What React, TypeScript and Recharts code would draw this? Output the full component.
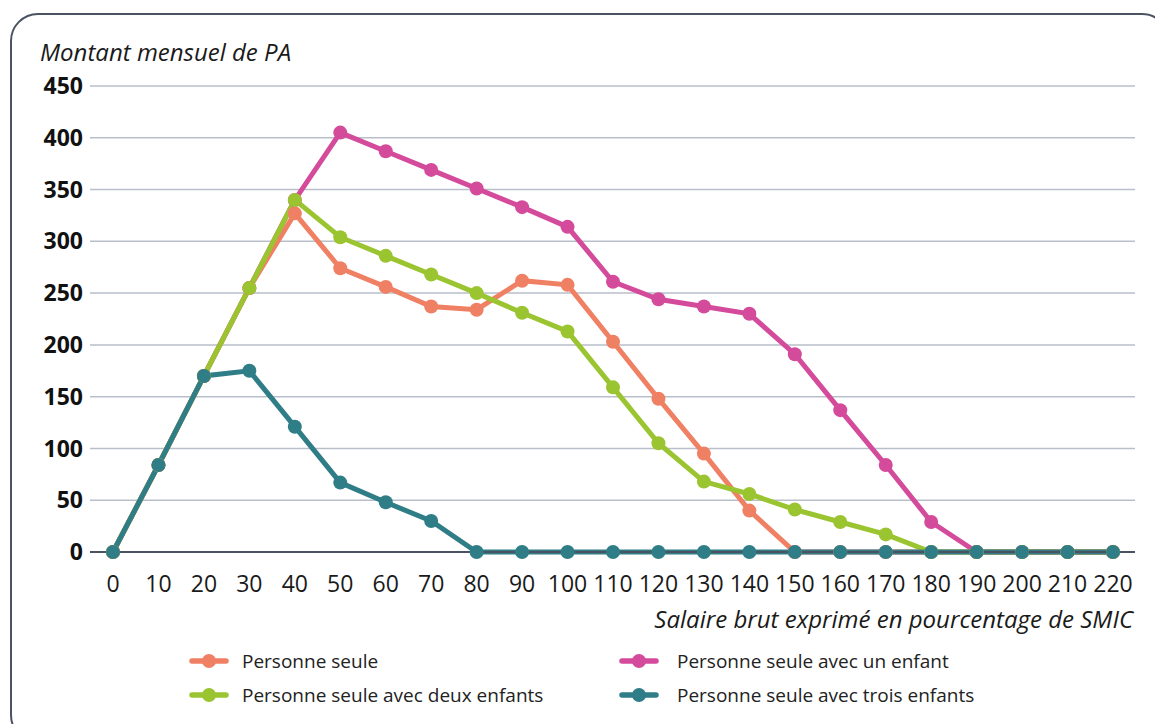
import { LineChart, Line, XAxis, YAxis, CartesianGrid } from 'recharts';

const salaires = [0, 10, 20, 30, 40, 50, 60, 70, 80, 90, 100, 110, 120, 130, 140, 150, 160, 170, 180, 190, 200, 210, 220];

const seule = [0, 84, 170, 255, 327, 274, 256, 237, 234, 262, 258, 203, 148, 95, 40, 0, 0, 0, 0, 0, 0, 0, 0];
const unEnfant = [0, 84, 170, 255, 340, 405, 387, 369, 351, 333, 314, 261, 244, 237, 230, 191, 137, 84, 29, 0, 0, 0, 0];
const deuxEnfants = [0, 84, 170, 255, 340, 304, 286, 268, 250, 231, 213, 159, 105, 68, 56, 41, 29, 17, 0, 0, 0, 0, 0];
const troisEnfants = [0, 84, 170, 175, 121, 67, 48, 30, 0, 0, 0, 0, 0, 0, 0, 0, 0, 0, 0, 0, 0, 0, 0];

const yTicks = [0, 50, 100, 150, 200, 250, 300, 350, 400, 450];

const series = [
    { key: 'seule', name: 'Personne seule', color: '#f08064' },
    { key: 'unEnfant', name: 'Personne seule avec un enfant', color: '#d34b9a' },
    { key: 'deuxEnfants', name: 'Personne seule avec deux enfants', color: '#9bc431' },
    { key: 'troisEnfants', name: 'Personne seule avec trois enfants', color: '#2f7d86' },
];

const data = salaires.map((s, i) => ({
    salaire: s,
    seule: seule[i],
    unEnfant: unEnfant[i],
    deuxEnfants: deuxEnfants[i],
    troisEnfants: troisEnfants[i],
}));

// draw order: pink, orange, green, teal (teal on top)
const drawOrder = ['unEnfant', 'seule', 'deuxEnfants', 'troisEnfants'];

const FONT = '"Open Sans", "Noto Sans", sans-serif';

// legend slots: icon left, text left, row center
const legendPos = [
    { icon: 189, text: 242, y: 661 },
    { icon: 619, text: 677, y: 661 },
    { icon: 189, text: 242, y: 695 },
    { icon: 619, text: 677, y: 695 },
];

function LegendBox() {
    return (
        <>
            {series.map((s, i) => {
                const p = legendPos[i];
                return (
                    <div key={s.key}>
                        <svg width={40} height={16} style={{ position: 'absolute', left: p.icon, top: p.y - 8 }}>
                            <line x1={3} y1={8} x2={37} y2={8} stroke={s.color} strokeWidth={5.5} strokeLinecap="round" />
                            <circle cx={20} cy={8} r={7} fill={s.color} />
                        </svg>
                        <div style={{ position: 'absolute', left: p.text, top: p.y - 14, height: 28, lineHeight: '28px', fontSize: 19, color: '#222', whiteSpace: 'nowrap' }}>
                            {s.name}
                        </div>
                    </div>
                );
            })}
        </>
    );
}

export default function App() {
    return (
        <div style={{ position: 'absolute', left: 0, top: 0, width: 1155, height: 724, overflow: 'hidden', background: '#fff', fontFamily: FONT }}>
            <div style={{ position: 'absolute', left: 10, top: 13, width: 1160, height: 730, border: '2.5px solid #4b5363', borderRadius: 28, boxSizing: 'border-box' }} />
            <div style={{ position: 'absolute', left: 40, top: 52 - 17, height: 34, lineHeight: '34px', fontSize: 24, fontStyle: 'italic', color: '#1a1a1a', whiteSpace: 'nowrap' }}>Montant mensuel de PA</div>
            <div style={{ position: 'absolute', right: 22, top: 619 - 17, height: 34, lineHeight: '34px', fontSize: 24, fontStyle: 'italic', color: '#1a1a1a', whiteSpace: 'nowrap' }}>Salaire brut exprimé en pourcentage de SMIC</div>
            <div style={{ position: 'absolute', left: 0, top: 0 }}>
                <LineChart width={1155} height={724} data={data} margin={{ top: 86, right: 20, bottom: 132, left: 0 }}>
                    <CartesianGrid vertical={false} stroke="#b9bfca" strokeWidth={1.5} />
                    <XAxis
                        dataKey="salaire"
                        type="number"
                        domain={[0, 220]}
                        ticks={salaires}
                        interval={0}
                        padding={{ left: 23, right: 22 }}
                        tickLine={false}
                        axisLine={{ stroke: '#4b5363', strokeWidth: 2 }}
                        tickSize={0}
                        tickMargin={24}
                        tick={{ fill: '#1a1a1a', fontSize: 23, fontFamily: FONT }}
                        height={40}
                    />
                    <YAxis
                        domain={[0, 450]}
                        ticks={yTicks}
                        interval={0}
                        tickLine={false}
                        axisLine={false}
                        tickSize={0}
                        tickMargin={7}
                        width={90}
                        tick={{ fill: '#111', fontSize: 23, fontWeight: 700, fontFamily: FONT }}
                    />
                    {drawOrder.map((k) => {
                        const s = series.find((x) => x.key === k)!;
                        return (
                            <Line
                                key={k}
                                dataKey={k}
                                name={s.name}
                                stroke={s.color}
                                strokeWidth={5}
                                type="linear"
                                dot={{ r: 7, fill: s.color, stroke: s.color, strokeWidth: 0 }}
                                activeDot={false}
                                isAnimationActive={false}
                            />
                        );
                    })}
                </LineChart>
            </div>
            <LegendBox />
        </div>
    );
}
